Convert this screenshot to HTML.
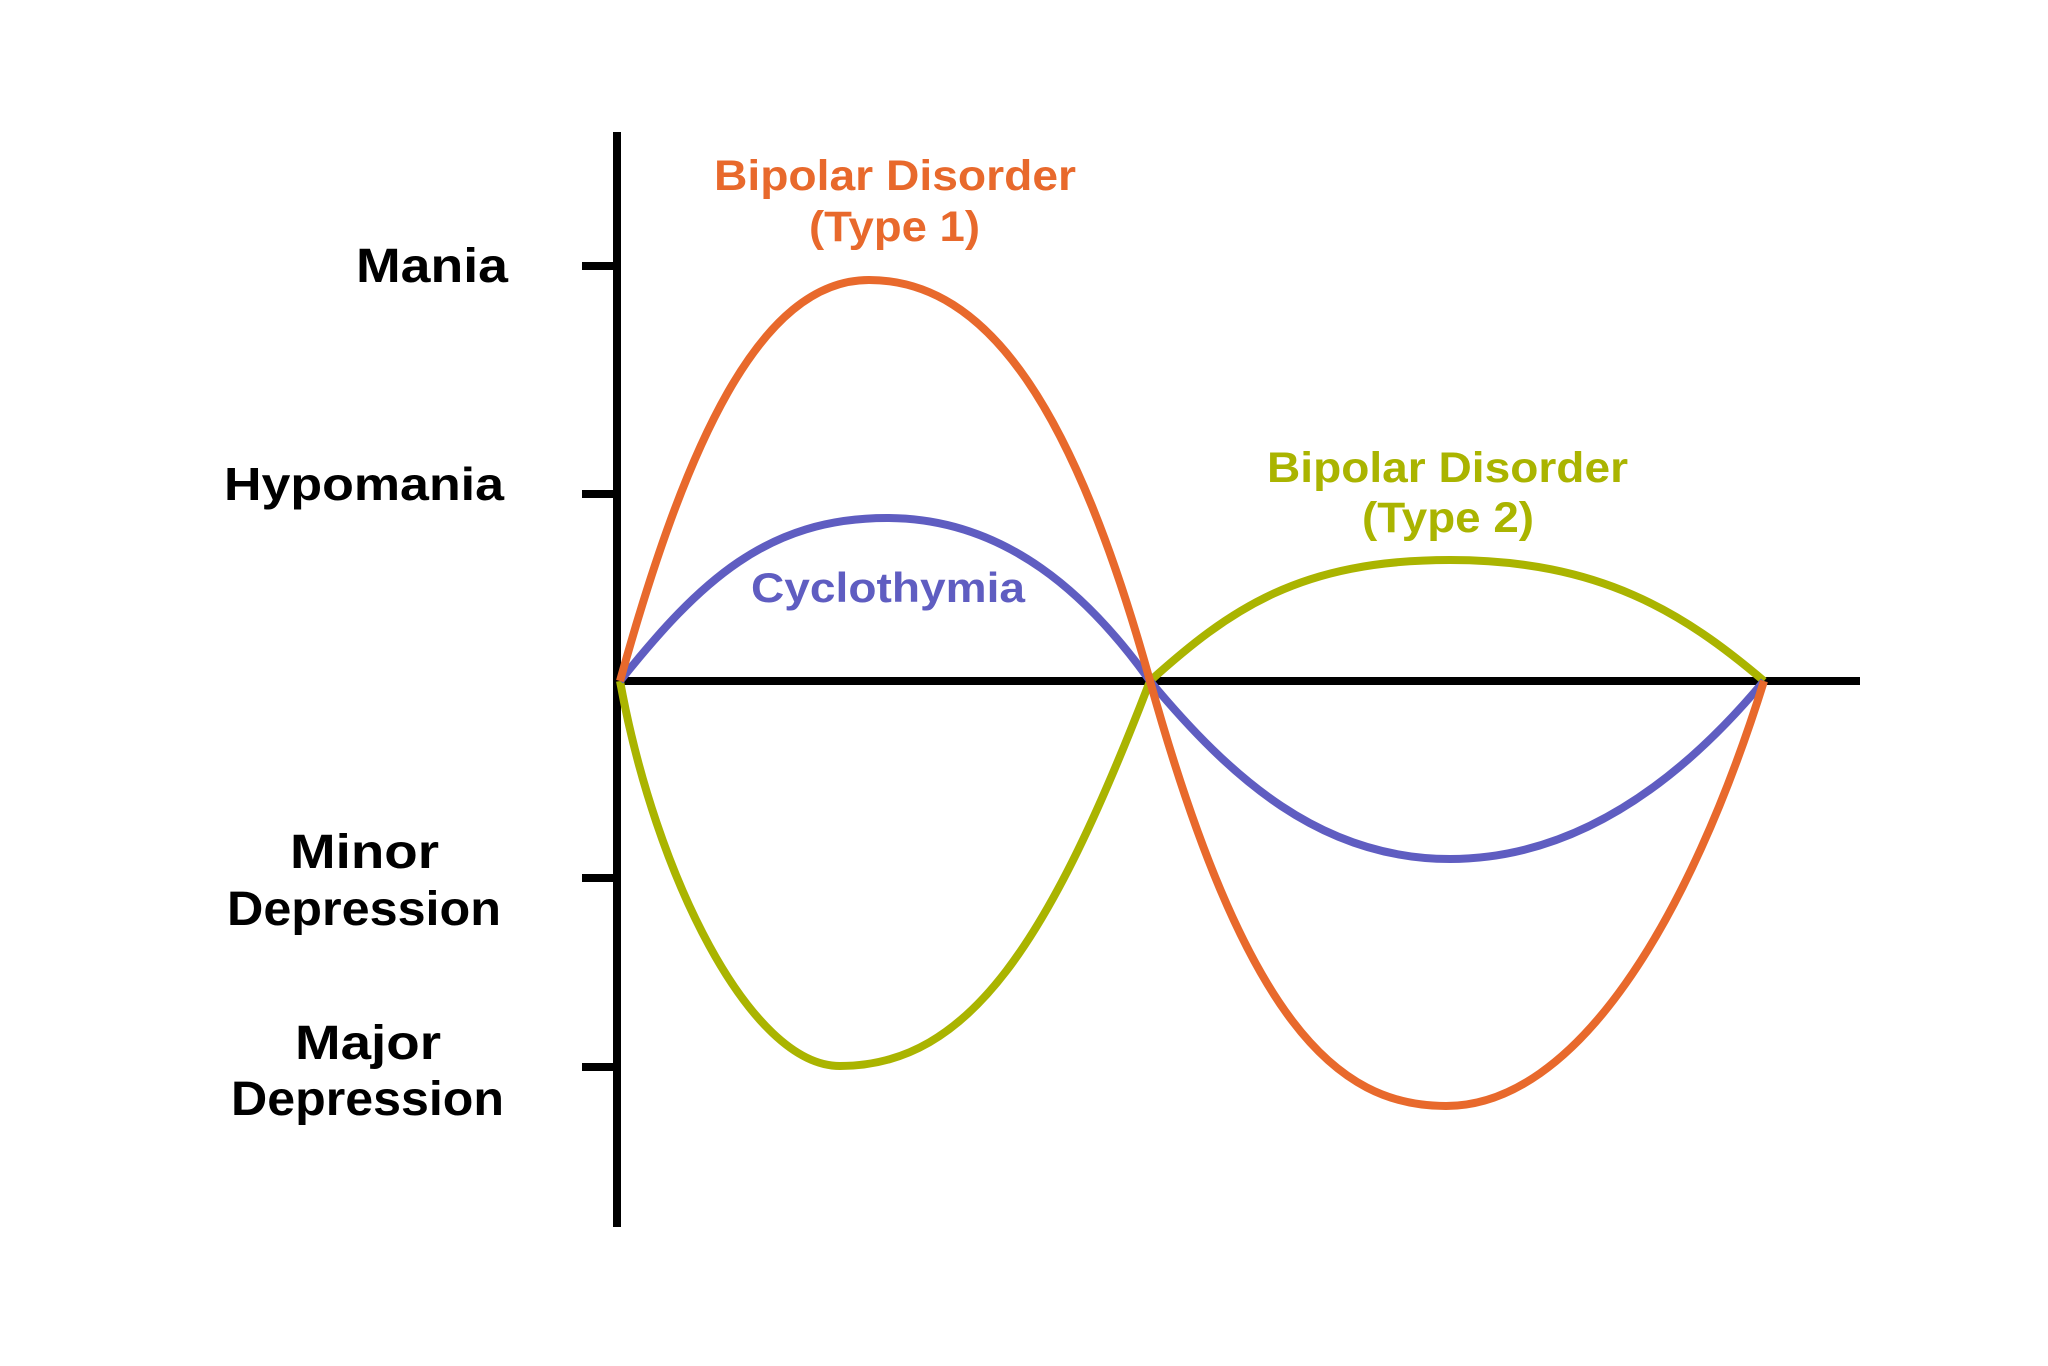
<!DOCTYPE html>
<html>
<head>
<meta charset="utf-8">
<style>
  html, body { margin: 0; padding: 0; background: #ffffff; }
  svg { display: block; }
  .lbl { font-family: "Liberation Sans", sans-serif; font-weight: bold; }
</style>
</head>
<body>
<svg width="2048" height="1366" viewBox="0 0 2048 1366" xmlns="http://www.w3.org/2000/svg">
  <rect x="0" y="0" width="2048" height="1366" fill="#ffffff"/>

  <!-- Axes -->
  <rect x="613" y="132" width="8" height="1095" fill="#000"/>
  <rect x="617" y="677" width="1243" height="8" fill="#000"/>
  <!-- Ticks -->
  <rect x="582" y="262" width="35" height="8" fill="#000"/>
  <rect x="582" y="490" width="35" height="8" fill="#000"/>
  <rect x="582" y="874" width="35" height="8" fill="#000"/>
  <rect x="582" y="1063" width="35" height="8" fill="#000"/>

  <!-- Curves -->
  <path d="M620,681 C655,874 750,1066 840,1066 C970,1066 1050,941 1150,681 C1230,609 1300,560 1450,560 C1600,560 1684,613 1764,681"
        fill="none" stroke="#AAB400" stroke-width="8" stroke-linejoin="round"/>
  <path d="M620,681 C700,581 767,518 887,518 C1007,518 1090,597 1150,681 C1230,777 1320,859 1450,859 C1580,859 1684,777 1764,681"
        fill="none" stroke="#5F5DC1" stroke-width="8" stroke-linejoin="round"/>
  <path d="M620,681 C685,447 759,280 869,280 C989,280 1075,411 1150,681 C1245,1021 1336,1106 1446,1106 C1576,1106 1689,921 1764,681"
        fill="none" stroke="#E8692C" stroke-width="8" stroke-linejoin="round"/>

  <!-- Axis labels -->
  <text class="lbl" x="356" y="282" font-size="48" fill="#000" textLength="152" lengthAdjust="spacingAndGlyphs">Mania</text>
  <text class="lbl" x="224" y="500" font-size="46" fill="#000" textLength="280" lengthAdjust="spacingAndGlyphs">Hypomania</text>
  <text class="lbl" x="290" y="868" font-size="48" fill="#000" textLength="149" lengthAdjust="spacingAndGlyphs">Minor</text>
  <text class="lbl" x="227" y="925" font-size="48" fill="#000" textLength="274" lengthAdjust="spacingAndGlyphs">Depression</text>
  <text class="lbl" x="295" y="1059" font-size="48" fill="#000" textLength="146" lengthAdjust="spacingAndGlyphs">Major</text>
  <text class="lbl" x="231" y="1115" font-size="48" fill="#000" textLength="273" lengthAdjust="spacingAndGlyphs">Depression</text>

  <!-- Curve labels -->
  <text class="lbl" x="714" y="190" font-size="43" fill="#E8692C" textLength="362" lengthAdjust="spacingAndGlyphs">Bipolar Disorder</text>
  <text class="lbl" x="809" y="241" font-size="43" fill="#E8692C" textLength="171" lengthAdjust="spacingAndGlyphs">(Type 1)</text>

  <text class="lbl" x="751" y="602" font-size="42" fill="#5F5DC1" textLength="274" lengthAdjust="spacingAndGlyphs">Cyclothymia</text>

  <text class="lbl" x="1267" y="482" font-size="43" fill="#AAB400" textLength="361" lengthAdjust="spacingAndGlyphs">Bipolar Disorder</text>
  <text class="lbl" x="1362" y="532" font-size="43" fill="#AAB400" textLength="172" lengthAdjust="spacingAndGlyphs">(Type 2)</text>
</svg>
</body>
</html>
